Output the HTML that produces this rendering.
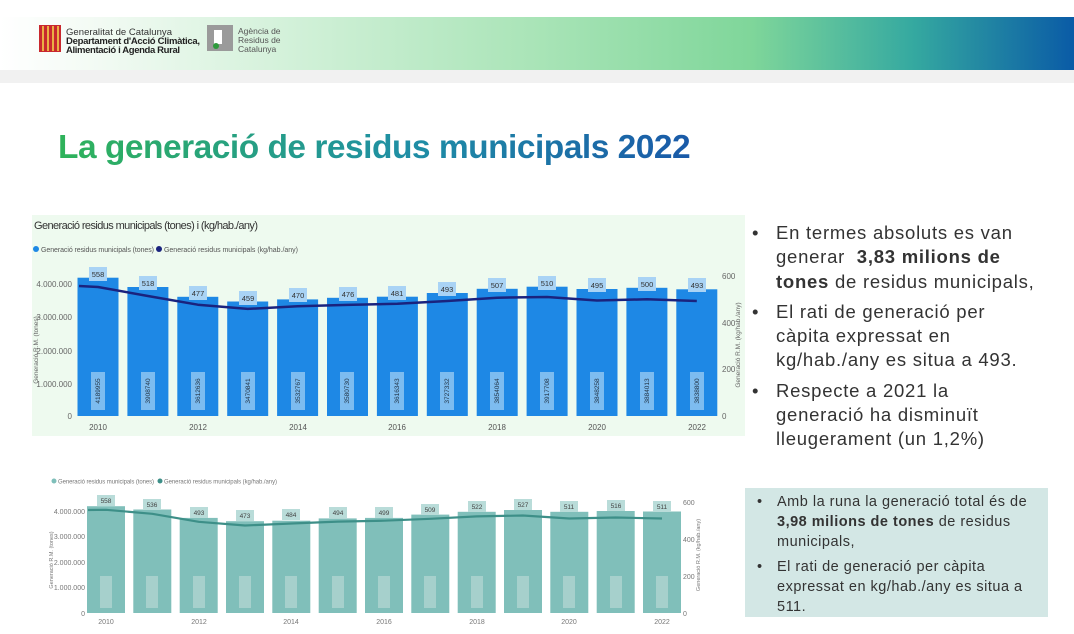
<!DOCTYPE html>
<html><head><meta charset="utf-8"><style>
body{margin:0;width:1074px;height:634px;overflow:hidden;background:#fff;font-family:"Liberation Sans",sans-serif;position:relative}
.band{position:absolute;left:0;top:17px;width:1074px;height:53px;background:linear-gradient(90deg,#fff 0%,#f4fbf5 8%,#d6f2dc 25%,#a9e4b7 50%,#7fd69a 70%,#35a9a0 85%,#0a5ba6 100%)}
.gray{position:absolute;left:0;top:70px;width:1074px;height:13px;background:#f1f1f1}
.title{position:absolute;left:58px;top:129px;font-size:33.5px;font-weight:bold;letter-spacing:-0.5px;background:linear-gradient(90deg,#2fb35a,#1f8fa5 55%,#1a5aa8);-webkit-background-clip:text;background-clip:text;color:transparent}
.bul{position:absolute;left:752px;top:221px;width:320px;font-size:18.5px;line-height:24.3px;color:#333;white-space:nowrap;letter-spacing:0.75px}
.bul div{position:relative;padding-left:24px;margin-bottom:6px}
.bul div:before{content:"•";position:absolute;left:0}
.box{position:absolute;left:745px;top:488px;width:303px;height:129px;background:#d3e7e5}
.box .t{position:absolute;left:8px;top:4px;width:290px;font-size:14.5px;line-height:20px;color:#333;white-space:nowrap;letter-spacing:0.5px}
.box .t div{position:relative;padding-left:24px;margin-bottom:5px}
.box .t div:before{content:"•";position:absolute;left:4px}
</style></head><body>
<div class="band"></div><div class="gray"></div>
<svg style="position:absolute;left:0;top:0" width="1074" height="90">
<rect x="39" y="25" width="22" height="27" fill="#c8282e"/>
<g stroke="#f3d04a" stroke-width="1.6"><line x1="43" y1="26" x2="43" y2="51"/><line x1="48" y1="26" x2="48" y2="51"/><line x1="53" y1="26" x2="53" y2="51"/><line x1="58" y1="26" x2="58" y2="51"/></g>
<text x="66" y="35" font-size="9.5" fill="#333" font-family="Liberation Sans" textLength="106">Generalitat de Catalunya</text>
<text x="66" y="44" font-size="9.5" font-weight="bold" fill="#222" font-family="Liberation Sans" textLength="134">Departament d'Acció Climàtica,</text>
<text x="66" y="53" font-size="9.5" font-weight="bold" fill="#222" font-family="Liberation Sans" textLength="114">Alimentació i Agenda Rural</text>
<rect x="207" y="25" width="26" height="26" fill="#9a9a9a"/><rect x="214" y="30" width="8" height="14" fill="#fff"/><circle cx="216" cy="46" r="3" fill="#2e9a3c"/>
<text x="238" y="34" font-size="8.5" fill="#555" font-family="Liberation Sans">Agència de</text>
<text x="238" y="43" font-size="8.5" fill="#555" font-family="Liberation Sans">Residus de</text>
<text x="238" y="52" font-size="8.5" fill="#555" font-family="Liberation Sans">Catalunya</text>
</svg>
<div class="title">La generació de residus municipals 2022</div>

<svg style="position:absolute;left:0;top:0" width="745" height="634" font-family="Liberation Sans">
<rect x="32" y="215" width="713" height="221" fill="#eefaef"/>
<text x="34" y="229" font-size="11" fill="#333" textLength="224">Generació residus municipals (tones) i (kg/hab./any)</text>
<circle cx="36" cy="249" r="3" fill="#1e88e5"/><text x="41" y="252" font-size="7" fill="#555" textLength="113">Generació residus municipals (tones)</text>
<circle cx="159" cy="249" r="3" fill="#1a237e"/><text x="164" y="252" font-size="7" fill="#555" textLength="134">Generació residus municipals (kg/hab./any)</text>
<g font-size="8" fill="#666" text-anchor="end">
<text x="72" y="287">4.000.000</text><text x="72" y="354">2.000.000</text><text x="72" y="320">3.000.000</text><text x="72" y="387">1.000.000</text><text x="72" y="419">0</text></g>
<g font-size="8" fill="#666"><text x="722" y="279">600</text><text x="722" y="326">400</text><text x="722" y="372">200</text><text x="722" y="419">0</text></g>
<text transform="translate(38,350) rotate(-90)" font-size="6.5" fill="#666" text-anchor="middle">Generació R.M. (tones)</text>
<text transform="translate(740,345) rotate(-90)" font-size="6.5" fill="#666" text-anchor="middle">Generació R.M. (kg/hab./any)</text>
<g fill="#1e88e5">
<rect x="77.5" y="277.7" width="41" height="138.3"/><rect x="127.4" y="287" width="41" height="129"/><rect x="177.3" y="296.8" width="41" height="119.2"/><rect x="227.2" y="301.5" width="41" height="114.5"/><rect x="277.1" y="299.4" width="41" height="116.6"/><rect x="327" y="297.8" width="41" height="118.2"/><rect x="376.9" y="296.7" width="41" height="119.3"/><rect x="426.8" y="293" width="41" height="123"/><rect x="476.7" y="288.8" width="41" height="127.2"/><rect x="526.6" y="286.7" width="41" height="129.3"/><rect x="576.5" y="289" width="41" height="127"/><rect x="626.4" y="287.8" width="41" height="128.2"/><rect x="676.3" y="289.3" width="41" height="126.7"/></g>
<g fill="#a9d3f5">
<rect x="89" y="267" width="18" height="14"/><rect x="139" y="276" width="18" height="14"/><rect x="189" y="286" width="18" height="14"/><rect x="239" y="291" width="18" height="14"/><rect x="289" y="288" width="18" height="14"/><rect x="339" y="287" width="18" height="14"/><rect x="388" y="286" width="18" height="14"/><rect x="438" y="282" width="18" height="14"/><rect x="488" y="278" width="18" height="14"/><rect x="538" y="276" width="18" height="14"/><rect x="588" y="278" width="18" height="14"/><rect x="638" y="277" width="18" height="14"/><rect x="688" y="278" width="18" height="14"/></g>
<g fill="#7dbcf0"><rect x="91" y="372" width="14" height="38"/><rect x="141" y="372" width="14" height="38"/><rect x="191" y="372" width="14" height="38"/><rect x="241" y="372" width="14" height="38"/><rect x="291" y="372" width="14" height="38"/><rect x="340" y="372" width="14" height="38"/><rect x="390" y="372" width="14" height="38"/><rect x="440" y="372" width="14" height="38"/><rect x="490" y="372" width="14" height="38"/><rect x="540" y="372" width="14" height="38"/><rect x="590" y="372" width="14" height="38"/><rect x="640" y="372" width="14" height="38"/><rect x="690" y="372" width="14" height="38"/></g>
<polyline points="79,286 98,287 147.9,296 197.8,304.7 247.7,308.9 297.6,306.3 347.5,304.9 397.4,303.8 447.3,301 497.2,297.7 547.1,297 597,300.5 646.9,299.3 696.8,301" fill="none" stroke="#1a237e" stroke-width="2.5" stroke-linejoin="round"/>
<g font-size="7.5" fill="#333" text-anchor="middle">
<text x="98" y="277">558</text><text x="148" y="286">518</text><text x="198" y="296">477</text><text x="248" y="301">459</text><text x="298" y="298">470</text><text x="348" y="297">476</text><text x="397" y="296">481</text><text x="447" y="292">493</text><text x="497" y="288">507</text><text x="547" y="286">510</text><text x="597" y="288">495</text><text x="647" y="287">500</text><text x="697" y="288">493</text></g>
<g font-size="6.5" fill="#234" text-anchor="middle">
<text transform="translate(100,391) rotate(-90)">4189955</text><text transform="translate(150,391) rotate(-90)">3908740</text><text transform="translate(200,391) rotate(-90)">3612636</text><text transform="translate(250,391) rotate(-90)">3470841</text><text transform="translate(300,391) rotate(-90)">3532767</text><text transform="translate(349,391) rotate(-90)">3580730</text><text transform="translate(399,391) rotate(-90)">3616343</text><text transform="translate(449,391) rotate(-90)">3727332</text><text transform="translate(499,391) rotate(-90)">3854064</text><text transform="translate(549,391) rotate(-90)">3917708</text><text transform="translate(599,391) rotate(-90)">3848258</text><text transform="translate(649,391) rotate(-90)">3884013</text><text transform="translate(699,391) rotate(-90)">3838800</text></g>
<g font-size="8" fill="#555" text-anchor="middle"><text x="98" y="430">2010</text><text x="198" y="430">2012</text><text x="298" y="430">2014</text><text x="397" y="430">2016</text><text x="497" y="430">2018</text><text x="597" y="430">2020</text><text x="697" y="430">2022</text></g>

<circle cx="54" cy="481" r="2.5" fill="#7fbfba"/><text x="58" y="483.5" font-size="6" fill="#777" textLength="96">Generació residus municipals (tones)</text>
<circle cx="160" cy="481" r="2.5" fill="#3d8f88"/><text x="164" y="483.5" font-size="6" fill="#777" textLength="113">Generació residus municipals (kg/hab./any)</text>
<g font-size="7" fill="#777" text-anchor="end"><text x="85" y="514">4.000.000</text><text x="85" y="539">3.000.000</text><text x="85" y="565">2.000.000</text><text x="85" y="590">1.000.000</text><text x="85" y="616">0</text></g>
<g font-size="7" fill="#777"><text x="683" y="505">600</text><text x="683" y="542">400</text><text x="683" y="579">200</text><text x="683" y="616">0</text></g>
<text transform="translate(53,560) rotate(-90)" font-size="5.5" fill="#777" text-anchor="middle">Generació R.M. (tones)</text>
<text transform="translate(700,555) rotate(-90)" font-size="5.5" fill="#777" text-anchor="middle">Generació R.M. (kg/hab./any)</text>
<g fill="#80bfba">
<rect x="87" y="506.2" width="38" height="106.8"/><rect x="133.3" y="509.5" width="38" height="103.5"/><rect x="179.7" y="517.9" width="38" height="95.1"/><rect x="226" y="521.2" width="38" height="91.8"/><rect x="272.3" y="520.7" width="38" height="92.3"/><rect x="318.7" y="518.4" width="38" height="94.6"/><rect x="365" y="517.9" width="38" height="95.1"/><rect x="411.3" y="514.6" width="38" height="98.4"/><rect x="457.7" y="511.8" width="38" height="101.2"/><rect x="504" y="510" width="38" height="103"/><rect x="550.3" y="511.8" width="38" height="101.2"/><rect x="596.7" y="511" width="38" height="102"/><rect x="643" y="511.5" width="38" height="101.5"/></g>
<g fill="#b9dcd9"><rect x="97" y="495" width="18" height="11"/><rect x="143" y="499" width="18" height="11"/><rect x="190" y="507" width="18" height="11"/><rect x="236" y="510" width="18" height="11"/><rect x="282" y="509" width="18" height="11"/><rect x="329" y="507" width="18" height="11"/><rect x="375" y="507" width="18" height="11"/><rect x="421" y="504" width="18" height="11"/><rect x="468" y="501" width="18" height="11"/><rect x="514" y="499" width="18" height="11"/><rect x="560" y="501" width="18" height="11"/><rect x="607" y="500" width="18" height="11"/><rect x="653" y="501" width="18" height="11"/></g>
<g fill="#a6d0cc"><rect x="100" y="576" width="12" height="32"/><rect x="146" y="576" width="12" height="32"/><rect x="193" y="576" width="12" height="32"/><rect x="239" y="576" width="12" height="32"/><rect x="285" y="576" width="12" height="32"/><rect x="332" y="576" width="12" height="32"/><rect x="378" y="576" width="12" height="32"/><rect x="424" y="576" width="12" height="32"/><rect x="471" y="576" width="12" height="32"/><rect x="517" y="576" width="12" height="32"/><rect x="563" y="576" width="12" height="32"/><rect x="610" y="576" width="12" height="32"/><rect x="656" y="576" width="12" height="32"/></g>
<polyline points="88,510 106,509.8 152.3,513.8 198.7,521.8 245,525.5 291.3,523.5 337.7,521.6 384,520.7 430.3,518.8 476.7,516.4 523,515.5 569.3,518.5 615.7,517.5 662,518.5" fill="none" stroke="#3d8f88" stroke-width="2.2" stroke-linejoin="round"/>
<g font-size="6.5" fill="#444" text-anchor="middle"><text x="106" y="503">558</text><text x="152" y="507">536</text><text x="199" y="515">493</text><text x="245" y="518">473</text><text x="291" y="517">484</text><text x="338" y="515">494</text><text x="384" y="515">499</text><text x="430" y="512">509</text><text x="477" y="509">522</text><text x="523" y="507">527</text><text x="569" y="509">511</text><text x="616" y="508">516</text><text x="662" y="509">511</text></g>
<g font-size="7" fill="#777" text-anchor="middle"><text x="106" y="624">2010</text><text x="199" y="624">2012</text><text x="291" y="624">2014</text><text x="384" y="624">2016</text><text x="477" y="624">2018</text><text x="569" y="624">2020</text><text x="662" y="624">2022</text></g>
</svg>

<div class="bul">
<div>En termes absoluts es van<br>generar &nbsp;<b>3,83 milions de</b><br><b>tones</b> de residus municipals,</div>
<div>El rati de generació per<br>càpita expressat en<br>kg/hab./any es situa a 493.</div>
<div>Respecte a 2021 la<br>generació ha disminuït<br>lleugerament (un 1,2%)</div>
</div>
<div class="box"><div class="t">
<div>Amb la runa la generació total és de<br><b>3,98 milions de tones</b> de residus<br>municipals,</div>
<div>El rati de generació per càpita<br>expressat en kg/hab./any es situa a<br>511.</div>
</div></div>
</body></html>
